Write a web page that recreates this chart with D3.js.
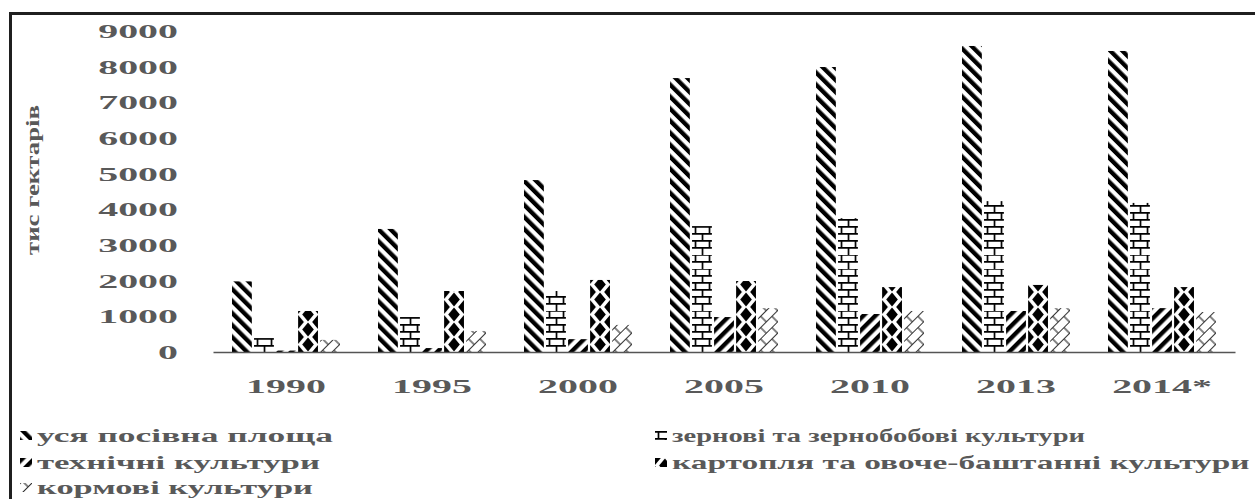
<!DOCTYPE html>
<html><head><meta charset="utf-8">
<script src="https://cdn.jsdelivr.net/npm/d3@7"></script>
<style>body{margin:0;background:#fff}svg{display:block}</style>
</head><body><svg id="c" width="1255" height="499"></svg>
<script>
// ---- data ----
const years = ["1990","1995","2000","2005","2010","2013","2014*"];
const seriesNames = ["уся посівна площа","зернові та  зернобобові культури","технічні культури","картопля та овоче-баштанні культури","кормові культури"];
const totalArea  = [1980, 3450, 4820, 7680, 7990, 8580, 8440];
const grain      = [390, 980, 1710, 3530, 3750, 4230, 4180];
const industrial = [40, 110, 360, 980, 1065, 1150, 1230];
const potatoVeg  = [1150, 1710, 2020, 1990, 1820, 1880, 1820];
const fodder     = [340, 590, 760, 1230, 1150, 1230, 1120];
const yTicks = [0,1000,2000,3000,4000,5000,6000,7000,8000,9000];
const yTitle = "тис гектарів";

const seriesValues = [totalArea, grain, industrial, potatoVeg, fodder];

// ---- layout ----
const svg = d3.select("#c");
const TXT = "#595959";
const FONT = "'Liberation Serif','Times New Roman',serif";
const SX = 2.1;
const base = 352;

const y = d3.scaleLinear().domain([0, 9000]).range([base, 31]);
const x0 = d3.scaleBand().domain(years).range([213, 1235]).padding(0);
const x1 = d3.scaleBand().domain(d3.range(5)).range([19, 127]).paddingInner(0.1);
const bw = x1.bandwidth();

// ---- patterns ----
const defs = svg.append("defs");
function stripe(id, angle){
  const p = defs.append("pattern").attr("id", id).attr("patternUnits","userSpaceOnUse")
    .attr("width", 8.5).attr("height", 8.5).attr("patternTransform", `rotate(${angle})`);
  p.append("rect").attr("width", 8.5).attr("height", 8.5).attr("fill", "#fff");
  p.append("rect").attr("width", 4.3).attr("height", 8.5).attr("fill", "#000");
}
stripe("p0", -45);
stripe("p2", 45);
// brick
{
  const p = defs.append("pattern").attr("id","p1").attr("patternUnits","userSpaceOnUse")
    .attr("width",14).attr("height",14);
  p.append("rect").attr("width",14).attr("height",14).attr("fill","#fff");
  const path = "M0,0.8H14M0,7.8H14M3.5,0.8V7.8M10.5,7.8V14.8";
  p.append("path").attr("d", path).attr("stroke","#000").attr("stroke-width",1.7).attr("fill","none");
}
// diamonds
{
  const h = 15, w = bw, dx = 5.8, dy = 7;
  const p = defs.append("pattern").attr("id","p3").attr("patternUnits","userSpaceOnUse")
    .attr("width", w).attr("height", h);
  p.append("rect").attr("width",w).attr("height",h).attr("fill","#fff");
  const dia = (cx, cy) => `M${cx},${cy-dy}L${cx+dx},${cy}L${cx},${cy+dy}L${cx-dx},${cy}Z`;
  p.append("path").attr("fill","#000")
    .attr("d", [dia(w/2, h/2), dia(0,0), dia(w,0), dia(0,h), dia(w,h)].join(""));
}
// diagonal thin brick (shingle)
{
  const p = defs.append("pattern").attr("id","p4").attr("patternUnits","userSpaceOnUse")
    .attr("width",16).attr("height",16).attr("patternTransform","rotate(-45)");
  p.append("rect").attr("width",16).attr("height",16).attr("fill","#fff");
  p.append("path").attr("d","M0,0.5H16M0,8.5H16M3,0.5V8.5M11,8.5V16.5")
    .attr("stroke","#333").attr("stroke-width",1.2).attr("fill","none");
}

// ---- frame ----
svg.append("path").attr("d","M10.5,499V13.5H1255").attr("fill","none")
  .attr("stroke","#1f1f1f").attr("stroke-width",3);

// ---- bars ----
const gBars = svg.append("g");
years.forEach((yr, i) => {
  seriesValues.forEach((vals, s) => {
    const v = vals[i];
    gBars.append("g")
      .attr("transform", `translate(${x0(yr) + x1(s)},${base})`)
      .append("rect")
      .attr("x", 0).attr("y", y(v) - base)
      .attr("width", bw).attr("height", base - y(v))
      .attr("fill", `url(#p${s})`);
  });
});

// ---- axes ----
const xAxis = svg.append("g").attr("transform", `translate(0,${base})`)
  .call(d3.axisBottom(x0).tickSize(0).tickSizeOuter(0));
xAxis.select(".domain").attr("stroke", "#555").attr("stroke-width", 1.6);
xAxis.selectAll("text")
  .attr("y", 0).attr("dy", 0)
  .attr("transform", `translate(0,41) scale(${SX},1)`)
  .attr("fill", TXT).attr("font-family", FONT).attr("font-weight", "bold").attr("font-size", 19);

const yAxis = svg.append("g").attr("transform", `translate(213,0)`)
  .call(d3.axisLeft(y).tickValues(yTicks).tickSize(0).tickFormat(d3.format("d")));
yAxis.select(".domain").remove();
yAxis.selectAll("text")
  .attr("x", 0).attr("dy", 0)
  .attr("transform", `translate(-35,6.5) scale(${SX},1)`)
  .attr("fill", TXT).attr("font-family", FONT).attr("font-weight", "bold").attr("font-size", 19);

svg.append("text")
  .attr("transform", "translate(39,180) rotate(-90)")
  .attr("text-anchor", "middle")
  .attr("textLength", 150).attr("lengthAdjust", "spacingAndGlyphs")
  .attr("fill", TXT).attr("font-family", FONT).attr("font-weight", "bold").attr("font-size", 19)
  .text(yTitle);

// ---- legend ----
const legendPos = [
  {s:0, x:20, y:442, w:296}, {s:1, x:655, y:442, w:413},
  {s:2, x:20, y:469, w:283}, {s:3, x:655, y:469, w:578},
  {s:4, x:20, y:494, w:276}
];
const lg = svg.append("g");
legendPos.forEach(d => {
  lg.append("g").attr("transform", `translate(${d.x},${d.y - 11})`)
    .append("rect").attr("width", 12).attr("height", 9).attr("fill", `url(#p${d.s})`);
  const t = lg.append("text")
    .attr("fill", TXT).attr("font-family", FONT).attr("font-weight", "bold").attr("font-size", 18)
    .text(seriesNames[d.s]);
  const nat = t.node().getComputedTextLength();
  t.attr("transform", `translate(${d.x + 17},${d.y}) scale(${d.w / nat},1)`);
});
</script></body></html>
